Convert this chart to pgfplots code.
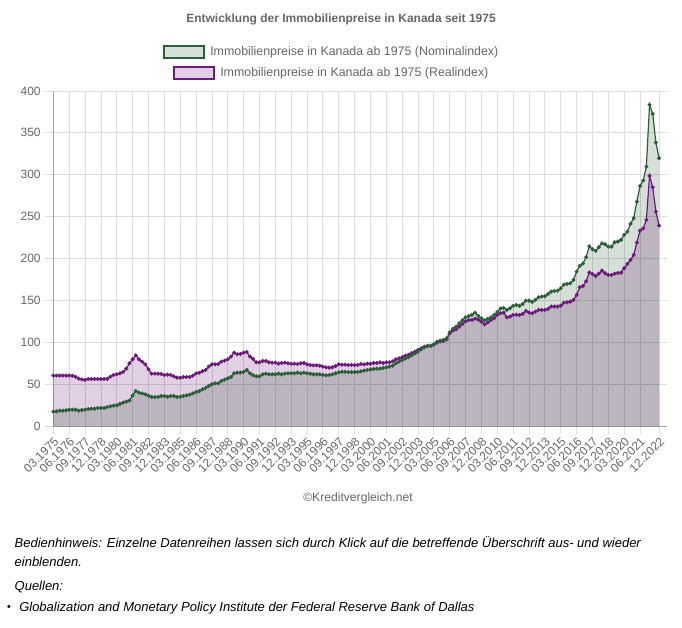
\documentclass[border=0pt]{standalone}
\usepackage{pgfplots}
\pgfplotsset{compat=1.18}
\usepackage{pgfplotstable}
\usepackage{fontspec}
\setmainfont{Liberation Sans}

\definecolor{txtgray}{RGB}{102,102,102}
\definecolor{nomline}{RGB}{45,94,58}
\definecolor{nomfill}{RGB}{214,223,216}
\definecolor{realline}{RGB}{107,28,122}
\definecolor{realfill}{RGB}{225,208,227}
\definecolor{gridgray}{RGB}{222,222,222}
\definecolor{axisgray}{RGB}{165,165,165}

% Quarterly index values, 03.1975 (i=0) to 12.2022 (i=191), 2005 = 100
\pgfplotstableread{
i nom real
0 17.5 60.5
1 17.8 60.5
2 18.6 60.5
3 18.6 60.5
4 19.0 60.5
5 19.8 60.5
6 19.8 60.3
7 19.8 59.0
8 18.6 56.8
9 19.4 56.0
10 19.8 55.3
11 20.6 56.4
12 21.0 56.4
13 21.0 56.4
14 21.8 56.4
15 21.8 56.4
16 21.8 56.4
17 23.0 56.6
18 23.8 59.2
19 24.6 61.2
20 25.0 62.0
21 26.6 63.2
22 28.2 64.8
23 29.4 68.8
24 30.6 75.1
25 36.9 79.9
26 42.1 84.6
27 40.1 79.9
28 39.3 77.1
29 38.1 73.9
30 36.5 68.0
31 34.9 62.8
32 34.9 62.8
33 34.9 62.8
34 36.1 62.4
35 36.1 61.2
36 35.3 61.6
37 36.1 61.2
38 36.1 59.6
39 34.9 58.0
40 35.3 58.0
41 36.1 58.8
42 36.9 58.8
43 37.7 58.8
44 39.3 60.4
45 40.9 63.0
46 41.9 63.8
47 44.1 65.6
48 45.7 67.2
49 48.1 71.2
50 50.1 73.9
51 51.3 73.9
52 51.3 74.3
53 54.1 77.1
54 55.6 78.3
55 57.2 79.9
56 58.8 83.1
57 63.2 87.9
58 64.0 85.9
59 64.0 86.3
60 64.8 87.9
61 67.2 88.6
62 63.2 83.1
63 60.8 80.3
64 59.6 76.3
65 59.6 76.3
66 62.0 77.9
67 62.8 77.9
68 62.0 76.3
69 62.0 75.9
70 62.0 75.9
71 62.8 74.7
72 62.0 75.5
73 62.8 75.9
74 63.2 75.1
75 63.2 74.7
76 63.2 74.7
77 64.0 74.3
78 63.2 75.1
79 64.0 75.5
80 63.2 73.9
81 62.8 73.1
82 62.0 72.7
83 62.0 72.7
84 62.0 72.3
85 61.2 71.2
86 60.8 70.4
87 61.2 70.0
88 62.0 70.4
89 63.2 71.9
90 64.4 73.9
91 65.0 73.5
92 65.0 73.5
93 64.7 73.1
94 64.7 73.1
95 64.7 73.1
96 64.7 73.1
97 65.5 74.3
98 66.3 73.9
99 67.1 74.7
100 67.9 74.7
101 68.3 75.5
102 68.7 75.5
103 68.7 76.3
104 69.5 75.5
105 70.3 76.3
106 71.1 76.3
107 72.3 77.5
108 75.1 79.9
109 77.1 81.1
110 79.1 82.2
111 80.7 84.2
112 82.3 85.4
113 84.6 87.4
114 87.0 89.0
115 89.0 91.0
116 91.8 93.0
117 94.2 95.0
118 95.8 95.8
119 96.2 95.8
120 97.8 97.4
121 100.9 99.8
122 102.1 101.3
123 102.9 101.7
124 104.9 103.7
125 112.1 110.9
126 116.5 114.1
127 118.8 115.7
128 122.8 118.8
129 126.4 122.0
130 130.0 125.2
131 131.6 126.8
132 132.8 126.8
133 135.6 128.4
134 131.6 127.2
135 128.8 124.8
136 126.4 121.6
137 128.2 123.8
138 130.0 126.8
139 132.8 128.8
140 136.4 132.8
141 140.4 134.8
142 141.2 135.6
143 138.8 130.0
144 140.8 130.8
145 143.6 132.8
146 144.7 133.2
147 143.6 132.8
148 145.9 134.0
149 149.9 137.6
150 149.9 135.6
151 148.3 134.8
152 150.7 136.8
153 153.9 138.8
154 154.7 138.8
155 155.1 138.8
156 157.9 140.0
157 160.6 142.8
158 161.4 142.8
159 161.8 142.8
160 164.6 143.9
161 169.0 147.5
162 169.8 147.9
163 170.6 148.7
164 174.6 150.7
165 184.5 156.7
166 191.3 165.8
167 194.1 167.4
168 201.8 173.0
169 214.7 183.5
170 211.2 181.7
171 209.2 179.3
172 213.6 182.1
173 218.3 185.7
174 217.1 182.5
175 214.3 180.5
176 214.3 180.5
177 219.5 182.1
178 220.3 182.9
179 222.3 183.3
180 228.3 188.5
181 232.2 193.7
182 241.4 198.4
183 248.2 204.4
184 268.0 219.1
185 286.7 233.4
186 293.1 236.2
187 309.8 246.2
188 383.4 298.7
189 372.7 285.2
190 338.5 256.1
191 319.8 239.4
}\preise

\begin{document}
\begin{tikzpicture}
\path[use as bounding box] (0pt,0pt) rectangle (511.5pt,-471pt);

% title
\node[font=\bfseries\fontsize{9}{11}\selectfont, text=txtgray] at (255.75pt,-14.5pt)
  {Entwicklung der Immobilienpreise in Kanada seit 1975};

% legend
\draw[draw=nomline, fill=nomfill, line width=0.8pt] (123pt,-34.5pt) rectangle (153pt,-43.5pt);
\node[anchor=west, font=\fontsize{9.3}{11}\selectfont, text=txtgray, inner sep=0pt] at (157.5pt,-39pt)
  {Immobilienpreise in Kanada ab 1975 (Nominalindex)};
\draw[draw=realline, fill=realfill, line width=0.8pt] (130.5pt,-50.25pt) rectangle (160.5pt,-59.25pt);
\node[anchor=west, font=\fontsize{9.3}{11}\selectfont, text=txtgray, inner sep=0pt] at (165pt,-54.75pt)
  {Immobilienpreise in Kanada ab 1975 (Realindex)};

\begin{axis}[
  at={(40pt,-319.7pt)}, anchor=south west,
  scale only axis, width=460pt, height=251.5pt,
  xmin=0, xmax=193.4, ymin=0, ymax=400,
  axis lines*=left,
  axis line style={draw=axisgray, line width=0.6pt},
  grid=major,
  major grid style={draw=gridgray, line width=0.6pt},
  tick align=outside, major tick length=6pt,
  tick style={draw=gridgray, line width=0.6pt},
  ytick={0,50,...,400},
  xtick={0,5,10,15,20,25,30,35,40,45,50,55,60,65,70,75,80,85,90,95,100,105,110,115,120,125,130,135,140,145,150,155,160,165,170,175,180,185,191},
  xticklabels={03.1975,06.1976,09.1977,12.1978,03.1980,06.1981,09.1982,12.1983,03.1985,06.1986,09.1987,12.1988,03.1990,06.1991,09.1992,12.1993,03.1995,06.1996,09.1997,12.1998,03.2000,06.2001,09.2002,12.2003,03.2005,06.2006,09.2007,12.2008,03.2010,06.2011,09.2012,12.2013,03.2015,06.2016,09.2017,12.2018,03.2020,06.2021,12.2022},
  ticklabel style={font=\fontsize{9}{10}\selectfont, text=txtgray},
  /pgf/number format/assume math mode=true,
  xticklabel style={rotate=45, anchor=north east, inner sep=1pt},
  clip=false,
]
\addplot[draw=none, fill=realfill, blend mode=multiply, forget plot]
  table[x=i, y=real]{\preise} \closedcycle;
\addplot[draw=none, fill=nomfill, blend mode=multiply, forget plot]
  table[x=i, y=nom]{\preise} \closedcycle;
\addplot[realline, line width=0.9pt, mark=*, mark size=1.0pt]
  table[x=i, y=real]{\preise};
\addplot[nomline, line width=0.9pt, mark=*, mark size=1.0pt]
  table[x=i, y=nom]{\preise};
\end{axis}

% footer
\node[font=\fontsize{9.1}{11}\selectfont, text=txtgray] at (268.5pt,-373.5pt) {©Kreditvergleich.net};
\node[anchor=west, font=\itshape\fontsize{9.75}{12}\selectfont, inner sep=0pt] at (10.8pt,-406.3pt)
  {Bedienhinweis: Einzelne Datenreihen lassen sich durch Klick auf die betreffende Überschrift aus- und wieder};
\node[anchor=west, font=\itshape\fontsize{9.75}{12}\selectfont, inner sep=0pt] at (10.8pt,-421.5pt) {einblenden.};
\node[anchor=west, font=\itshape\fontsize{9.75}{12}\selectfont, inner sep=0pt] at (10.8pt,-440.2pt) {Quellen:};
\node[anchor=west, font=\fontsize{8}{10}\selectfont, inner sep=0pt] at (5.2pt,-456.2pt) {•};
\node[anchor=west, font=\itshape\fontsize{9.75}{12}\selectfont, inner sep=0pt] at (14.25pt,-456.2pt)
  {Globalization and Monetary Policy Institute der Federal Reserve Bank of Dallas};
\end{tikzpicture}
\end{document}
